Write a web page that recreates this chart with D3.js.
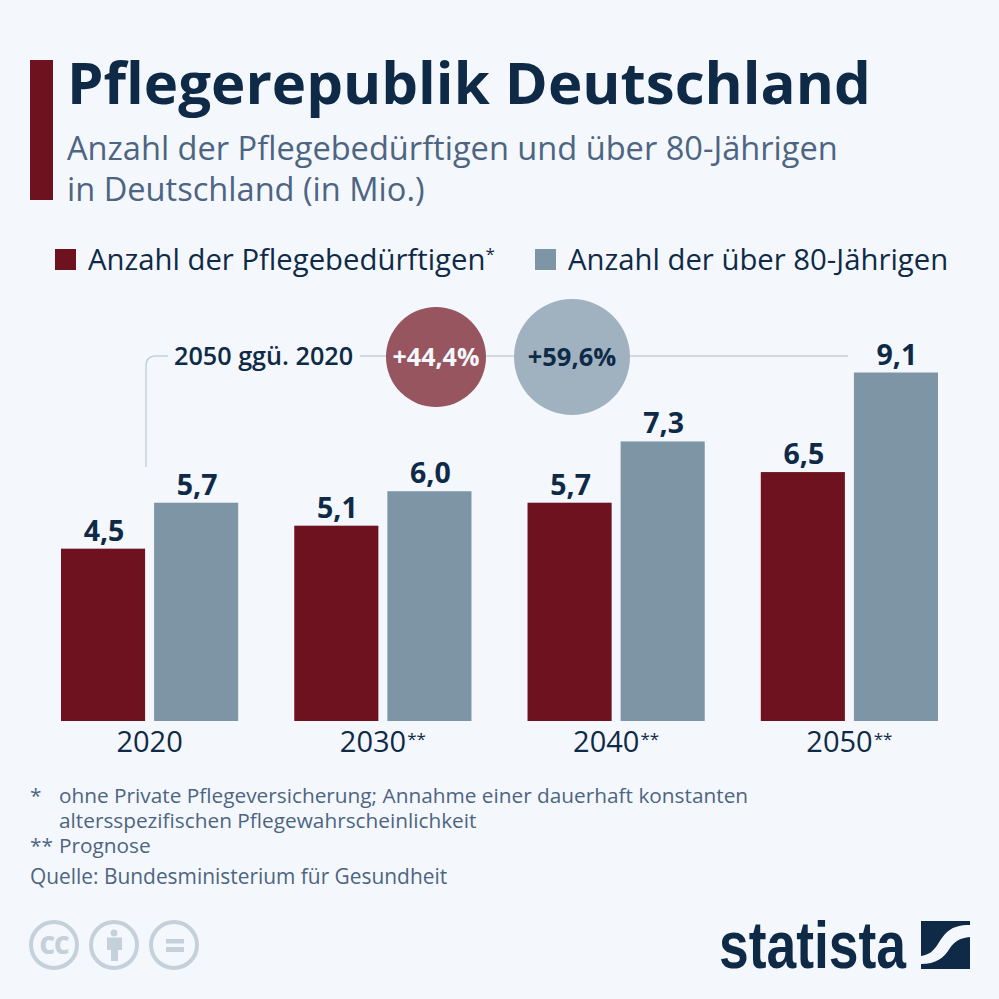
<!DOCTYPE html>
<html>
<head>
<meta charset="utf-8">
<script src="https://cdn.jsdelivr.net/npm/d3@7"></script>
<style>
    html, body { margin: 0; padding: 0; background: #f4f8fc; }
    svg { display: block; font-family: "Open Sans", sans-serif; }
</style>
</head>
<body>
<svg id="chart" width="999" height="999"></svg>
<script>
const years = ["2020", "2030**", "2040**", "2050**"];
const seriesNames = ["Anzahl der Pflegebedürftigen", "Anzahl der über 80-Jährigen"];
const pflege = [4.5, 5.1, 5.7, 6.5];
const ueber80 = [5.7, 6.0, 7.3, 9.1];
const changes = ["+44,4%", "+59,6%"];
const footnotes = [
    ["*", "ohne Private Pflegeversicherung; Annahme einer dauerhaft konstanten"],
    ["", "altersspezifischen Pflegewahrscheinlichkeit"],
    ["**", "Prognose"]
];

const navy = "#0f2a47";
const slate = "#4d6582";
const red = "#6e1220";
const grey = "#7d95a5";
const iconGrey = "#c5d1da";

let svg = d3.select("#chart");
svg.append("rect").attr("width", 999).attr("height", 999).attr("fill", "#f4f8fc");

// header
svg.append("rect").attr("x", 30).attr("y", 60).attr("width", 23).attr("height", 140).attr("fill", red);
svg.append("text").attr("x", 67).attr("y", 104)
    .attr("font-size", 58.2).attr("font-weight", 700).attr("fill", navy)
    .text("Pflegerepublik Deutschland");
svg.append("text").attr("x", 67).attr("y", 160)
    .attr("font-size", 32.6).attr("fill", slate)
    .text("Anzahl der Pflegebedürftigen und über 80-Jährigen");
svg.append("text").attr("x", 67).attr("y", 201)
    .attr("font-size", 32.6).attr("fill", slate)
    .text("in Deutschland (in Mio.)");

// legend
svg.append("rect").attr("x", 55).attr("y", 249).attr("width", 21).attr("height", 21).attr("fill", red);
let legend1 = svg.append("text").attr("x", 88).attr("y", 270)
    .attr("font-size", 29.3).attr("fill", navy).text(seriesNames[0]);
legend1.append("tspan").attr("font-size", 17).attr("dy", -10).text("*");
svg.append("rect").attr("x", 535).attr("y", 249).attr("width", 21).attr("height", 21).attr("fill", grey);
svg.append("text").attr("x", 568).attr("y", 270)
    .attr("font-size", 29.3).attr("fill", navy).text(seriesNames[1]);

// scales
let x0 = d3.scaleBand().domain(years).range([61, 938]).paddingInner(56 / 233);
let x1 = d3.scaleBand().domain([0, 1]).range([0, x0.bandwidth()]).paddingInner(9 / 93);
let y = d3.scaleLinear().domain([0, 9.1]).range([721, 372.5]);

// connector behind the circles
svg.append("path")
    .attr("d", "M146,467 V366 Q146,356 156,356 H168")
    .attr("fill", "none").attr("stroke", "#c6d0da").attr("stroke-width", 1.5);
svg.append("path")
    .attr("d", "M360,356 H848")
    .attr("fill", "none").attr("stroke", "#c6d0da").attr("stroke-width", 1.5);

svg.append("text").attr("x", 174).attr("y", 365)
    .attr("font-size", 25.2).attr("font-weight", 600).attr("fill", navy)
    .text("2050 ggü. 2020");

svg.append("circle").attr("cx", 436).attr("cy", 357).attr("r", 50).attr("fill", "#97555f");
svg.append("circle").attr("cx", 572).attr("cy", 357).attr("r", 58).attr("fill", "#a0b2bf");
svg.append("text").attr("x", 436).attr("y", 366).attr("text-anchor", "middle")
    .attr("font-size", 25).attr("font-weight", 700).attr("fill", "#f4f8fc").text(changes[0]);
svg.append("text").attr("x", 572).attr("y", 366).attr("text-anchor", "middle")
    .attr("font-size", 25.5).attr("font-weight", 700).attr("fill", navy).text(changes[1]);

// bars
[pflege, ueber80].forEach((values, s) => {
    let g = svg.append("g");
    g.selectAll("rect").data(values).enter().append("rect")
        .attr("x", (d, i) => x0(years[i]) + x1(s))
        .attr("y", d => y(d))
        .attr("width", x1.bandwidth())
        .attr("height", d => y(0) - y(d))
        .attr("fill", s === 0 ? red : grey);
    g.selectAll("text").data(values).enter().append("text")
        .attr("x", (d, i) => x0(years[i]) + x1(s) + x1.bandwidth() / 2 + 1)
        .attr("y", d => y(d) - 8)
        .attr("text-anchor", "middle")
        .attr("font-size", 28.5).attr("font-weight", 700).attr("fill", navy)
        .text(d => d3.format(".1f")(d).replace(".", ","));
});

// x axis labels, the stars are set smaller
let xAxis = svg.append("g")
    .attr("transform", "translate(0,721)")
    .call(d3.axisBottom(x0).tickSize(0).tickPadding(10.5));
xAxis.select(".domain").remove();
xAxis.selectAll("text")
    .attr("font-family", "'Open Sans', sans-serif")
    .attr("font-size", 29).attr("fill", navy)
    .text(d => d.replace("**", ""))
    .filter(d => d.includes("**"))
    .append("tspan").attr("font-size", 17).attr("dy", -7).attr("dx", 1).text("**");

// footnotes
footnotes.forEach((row, i) => {
    let yPos = [803, 828, 853][i];
    svg.append("text").attr("x", 30).attr("y", yPos)
        .attr("font-size", 20.8).attr("fill", slate).text(row[0]);
    svg.append("text").attr("x", 59).attr("y", yPos)
        .attr("font-size", 20.8).attr("fill", slate).text(row[1]);
});
svg.append("text").attr("x", 30).attr("y", 884)
    .attr("font-size", 20.9).attr("fill", slate)
    .text("Quelle: Bundesministerium für Gesundheit");

// licence icons
let icons = svg.append("g").attr("fill", "none").attr("stroke", iconGrey).attr("stroke-width", 4);
[54, 114, 174].forEach(cx => {
    icons.append("circle").attr("cx", cx).attr("cy", 945).attr("r", 23);
});
svg.append("text").attr("x", 54).attr("y", 954).attr("text-anchor", "middle")
    .attr("font-size", 24).attr("font-weight", 800).attr("fill", iconGrey).attr("letter-spacing", -1).text("CC");
svg.append("circle").attr("cx", 114).attr("cy", 933).attr("r", 3.4).attr("fill", iconGrey);
svg.append("path")
    .attr("d", "M107,937.5 H122 V950 H118 V961 H111 V950 H107 Z")
    .attr("fill", iconGrey);
svg.append("rect").attr("x", 166).attr("y", 939).attr("width", 18).attr("height", 4.5).attr("fill", iconGrey);
svg.append("rect").attr("x", 166).attr("y", 947).attr("width", 18).attr("height", 5).attr("fill", iconGrey);

// statista logo
svg.append("text").attr("x", 719).attr("y", 968)
    .attr("font-family", "'Liberation Sans Narrow', 'Liberation Sans', sans-serif")
    .attr("font-size", 66).attr("font-weight", 700).attr("fill", navy)
    .attr("textLength", 187).attr("lengthAdjust", "spacingAndGlyphs")
    .text("statista");
svg.append("path")
    .attr("d", "M921,921 H970 V925 C950,925 945,933 938,944 C933,952 928,955 921,956 Z")
    .attr("fill", navy);
svg.append("path")
    .attr("d", "M970,937 V969 H921 V964 C936,964 944,958 950,948 C955,941 960,938 970,937 Z")
    .attr("fill", navy);
</script>
</body>
</html>
